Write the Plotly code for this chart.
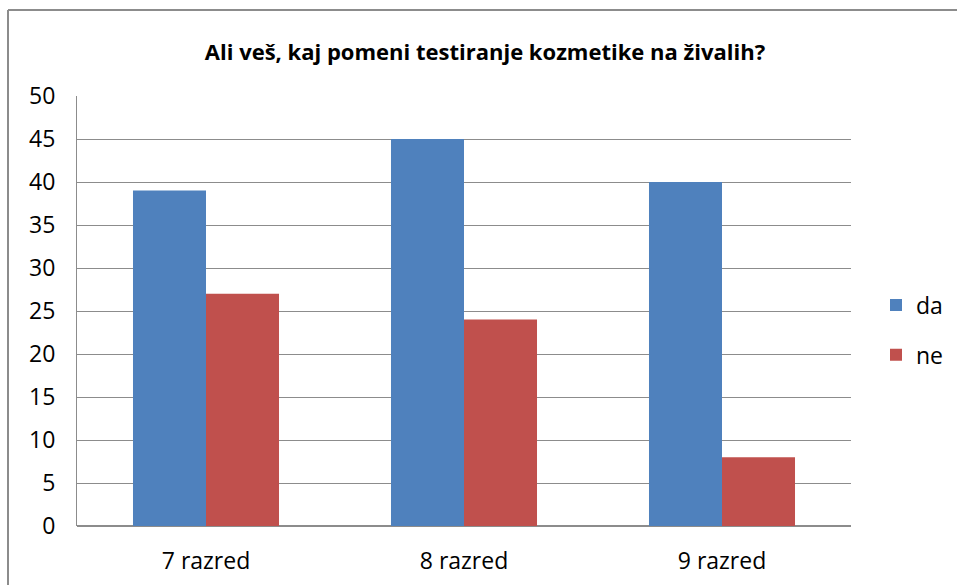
import plotly.graph_objects as go

categories = ["7 razred", "8 razred", "9 razred"]
da_values = [39, 45, 40]
ne_values = [27, 24, 8]
y_ticks = [0, 5, 10, 15, 20, 25, 30, 35, 40, 45, 50]

FONT = "Open Sans, Liberation Sans, sans-serif"

fig = go.Figure()
fig.add_trace(go.Bar(name="da", x=categories, y=da_values, legendgroup="a",
                     marker=dict(color="#4F81BD", line=dict(width=0))))
fig.add_trace(go.Bar(name="ne", x=categories, y=ne_values, legendgroup="b",
                     marker=dict(color="#C0504D", line=dict(width=0))))

L, R, T, B = 77, 106, 96, 59
W, H = 957, 585
pw, ph = W - L - R, H - T - B

fig.update_layout(
    width=W, height=H,
    margin=dict(l=L, r=R, t=T, b=B, autoexpand=False),
    paper_bgcolor="white", plot_bgcolor="white",
    barmode="group", bargap=0.434, bargroupgap=0,
    font=dict(family=FONT, size=23, color="black"),
    title=dict(text="<b>Ali veš, kaj pomeni testiranje kozmetike na živalih?</b>",
               x=485 / W, xanchor="center", y=1 - 52 / H, yanchor="middle",
               font=dict(family=FONT, size=22, color="black")),
    xaxis=dict(showgrid=False, showline=False, ticks="", zeroline=False,
               ticklabelstandoff=19, tickfont=dict(size=23)),
    yaxis=dict(range=[0, 50], tickvals=y_ticks, showgrid=True, gridcolor="#8c8c8c", gridwidth=1,
               showline=True, linecolor="#8c8c8c", linewidth=1, zeroline=True, zerolinecolor="#8c8c8c",
               ticks="", ticklabelstandoff=16, tickfont=dict(size=23)),
    legend=dict(x=1 + (876 - 851) / pw, xanchor="left", y=1 - (330 - T) / ph, yanchor="middle",
                font=dict(size=23), traceorder="grouped", tracegroupgap=17,
                bgcolor="rgba(0,0,0,0)"),
    showlegend=True,
)

# outer chart border (left and top edges visible)
bx = (8 - L) / pw
by = 1 + (T - 10) / ph
fig.add_shape(type="line", xref="paper", yref="paper", x0=bx, x1=bx, y0=by, y1=-0.3,
              line=dict(color="#8c8c8c", width=2))
fig.add_shape(type="line", xref="paper", yref="paper", x0=bx, x1=1.3, y0=by, y1=by,
              line=dict(color="#8c8c8c", width=2))

fig.write_html("out.html", config={"displayModeBar": False},
               post_script="document.body.style.margin='0';document.body.style.overflow='hidden';")
